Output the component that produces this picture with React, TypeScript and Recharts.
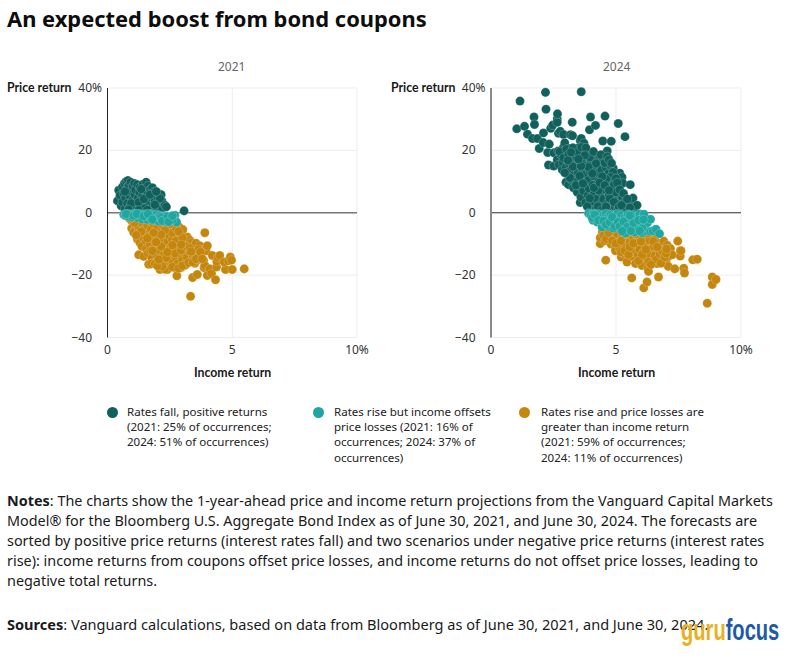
import { CartesianGrid, ReferenceLine, Scatter, ScatterChart, XAxis, YAxis, ZAxis } from "recharts";

type Pt = [number, number];

const DARK = "#10605c";
const TEAL = "#1ea69f";
const GOLD = "#c4860c";
const FONT = "'Noto Sans', sans-serif";

const fall2021: Pt[] = [
  [0.4,3.8],[0.45,7.2],[0.5,5.5],[0.55,2.2],[0.6,3.4],[0.6,8.3],[0.65,6.2],[0.68,9.4],[0.7,1.2],[0.72,4.8],[0.75,10],[0.78,7.6],
  [0.8,3],[0.82,10.3],[0.85,8.7],[0.88,5.6],[0.9,2],[0.93,9.8],[0.95,6.8],[1.0,4],[1.02,8.5],[1.05,1],[1.08,9.4],[1.1,5.8],
  [1.12,7.4],[1.15,2.8],[1.2,9],[1.22,4.6],[1.28,6.6],[1.3,8.2],[1.33,1.6],[1.38,3.6],[1.4,5.4],[1.42,9.1],[1.48,7.3],[1.52,2.4],
  [1.55,9.8],[1.58,4.6],[1.6,6],[1.62,8.6],[1.66,3.2],[1.7,0.8],[1.72,7.5],[1.75,5],[1.8,8],[1.82,2.2],[1.85,6.6],[1.9,3.8],
  [1.95,1.2],[2.0,5],[2.05,2.8],[2.08,6],[2.15,5.8],[2.18,3.8],[2.2,1.6],[2.3,2.4],[2.36,1.9],[3.07,0.6],
  [0.95,3],[1.25,3.4],[1.45,4.4],[1.7,5.8],[1.35,7.6],[0.7,6.8],[1.5,1.4],[1.1,0.6],[2.1,4.6],[1.95,6.8],[1.25,0.8],[0.85,1],[1.6,0.9],[1.9,2.6],
];

const offset2021: Pt[] = [
  [0.65,-0.6],[0.72,-0.9],[0.8,-0.4],[0.85,-1.2],[0.95,-0.5],[1.0,-1.4],[1.08,-0.3],[1.15,-0.9],[1.22,-1.6],[1.3,-0.4],[1.35,-1.2],
  [1.4,-2],[1.5,-0.5],[1.55,-1.5],[1.6,-2.2],[1.65,-0.8],[1.72,-1.8],[1.75,-0.4],[1.85,-1.2],[1.9,-2.4],[1.95,-0.6],[2.0,-1.7],
  [2.05,-2.7],[2.1,-0.9],[2.18,-2.2],[2.25,-1.3],[2.3,-2.8],[2.35,-1],[2.4,-2],[2.5,-2.7],[2.55,-1.6],[2.7,-0.8],[2.68,-2.3],[2.77,-3],
  [0.75,-0.4],[1.05,-0.9],[1.18,-0.4],[1.45,-1.1],[1.62,-0.4],[1.8,-2.2],[2.15,-1.5],[2.2,-2.6],[2.4,-1.2],[2.6,-2.3],[2.45,-2.9],[2.6,-1],
];

const loss2021: Pt[] = [
  [0.85,-1.6],[0.95,-2.4],[1.0,-3],[1.05,-4.2],[0.97,-5],[1.1,-5.4],[1.05,-6.3],[1.2,-3.2],[1.25,-4.8],[1.22,-6.6],[1.2,-8.5],[1.32,-7.4],
  [1.3,-9.6],[1.4,-3.6],[1.42,-5.6],[1.45,-8.2],[1.38,-10.8],[1.25,-13.5],[1.45,-14],[1.52,-6.6],[1.55,-9.2],[1.55,-11.6],[1.6,-4.2],[1.62,-13],
  [1.65,-16.5],[1.68,-7.6],[1.7,-10.2],[1.72,-12.2],[1.75,-5.2],[1.78,-14.6],[1.82,-16.2],[1.85,-3.6],[1.85,-8.6],[1.9,-11],[1.92,-6.6],[1.95,-13.4],
  [1.98,-15.8],[2.0,-4.8],[2.02,-9.6],[2.05,-7.8],[2.08,-12],[2.1,-18.2],[2.12,-14.6],[2.15,-16.4],[2.18,-5.8],[2.2,-3.8],[2.22,-10.4],[2.25,-8.6],
  [2.28,-13],[2.3,-6.8],[2.32,-15.4],[2.35,-11.6],[2.4,-18.2],[2.4,-4.8],[2.42,-9.2],[2.45,-16.6],[2.48,-7.4],[2.5,-13.8],[2.52,-11.2],[2.55,-5.6],
  [2.58,-15],[2.6,-8.6],[2.62,-3.8],[2.65,-12.4],[2.68,-10],[2.7,-17.6],[2.72,-6.6],[2.75,-14.4],[2.78,-20.2],[2.8,-16.4],[2.82,-8],[2.85,-11.6],
  [2.88,-4.6],[2.9,-13.2],[2.92,-9.6],[2.95,-17.6],[2.98,-6.8],[3.0,-15.2],[3.02,-5.4],[3.05,-11],[3.08,-12.8],[3.1,-8.8],[3.12,-16.8],[3.18,-14.4],
  [3.2,-7.8],[3.22,-10.2],[3.28,-12.4],[3.3,-8.8],[3.33,-26.8],[3.35,-15.6],[3.38,-9.6],[3.41,-20.8],[3.42,-13.6],[3.45,-11],[3.5,-16.2],[3.55,-9.8],
  [3.6,-19.8],[3.6,-12.6],[3.65,-15],[3.7,-10.6],[3.75,-13.8],[3.8,-12],[3.85,-15.2],[3.87,-17.6],[3.9,-6.4],[3.9,-16.9],[3.95,-12.2],[4.0,-10.6],
  [4.0,-20.1],[4.1,-18],[4.17,-19.5],[4.2,-13.7],[4.33,-21.5],[4.37,-17.4],[4.38,-15.6],[4.42,-14.4],[4.5,-13.7],[4.73,-18.2],[4.68,-15.8],[4.85,-15.4],
  [4.92,-14.2],[4.97,-15.2],[5.0,-18.2],[5.48,-18],
  [1.75,-16.4],[1.9,-16.4],[2.25,-16.6],[2.3,-18.1],[2.6,-17.4],[2.85,-17.8],[3.0,-17],[3.25,-16],[3.42,-15.8],[2.2,-17.2],[2,-17],[2.35,-14.4],[2.7,-13],
  [2.95,-12],[3.15,-10.8],[3.3,-11.4],[3.5,-13],[3.55,-14.8],[3.65,-11.8],[3.72,-12.6],[3.8,-14.8],[3.35,-12.4],[2.6,-6.4],[2.75,-5],[2.5,-3.6],[2.3,-5.6],
  [2.15,-7],[2.75,-9],[3,-8],[2.85,-6],[2.95,-10.2],[2.6,-10.4],[2.4,-12.6],[2.15,-10.8],[1.85,-6.4],[1.6,-8.2],[1.95,-9.4],[1.8,-12.2],[2.05,-15],[1.35,-6],
  [1.15,-7.2],[1.08,-3.2],[0.9,-1.9],
];

const fall2024: Pt[] = [
  [1.03,26.9],[1.16,35.8],[1.34,27.7],[1.46,25.2],[1.66,23.8],[1.72,30.7],[1.74,28.3],[1.86,23.8],[1.93,20.6],[2.09,22.5],[2.1,25.6],[2.18,38.6],
  [2.2,33.2],[2.27,19.3],[2.3,15.3],[2.33,22],[2.39,27.1],[2.47,28.1],[2.51,19.2],[2.51,15],[2.65,30.1],[2.65,29],[2.66,31.7],[2.69,19.8],[2.7,25.5],
  [2.77,26.1],[2.9,25.1],[2.9,21],[2.95,22.4],[3.18,25],[3.25,29],[3.26,24.7],[3.57,23.2],[3.61,23.8],[3.61,38.8],[3.72,22.3],[3.94,26.6],[3.98,30.7],
  [4.18,28],[4.47,23],[4.56,31],[4.65,19.8],[4.81,22.9],[5.09,28.6],[5.36,24.4],[4.89,14.3],[5.15,12.7],[5.24,11.4],[5.27,9.5],[5.57,9],
  [2.65,17],[2.72,15.4],[2.8,18.6],[2.85,13.8],[2.88,16.2],[2.95,19.8],[3.0,9.8],[3.0,14.6],[3.02,17.6],[3.08,12.2],[3.1,9],[3.12,15.8],[3.15,20.6],
  [3.18,18.4],[3.2,13.6],[3.22,10.6],[3.25,16.6],[3.3,8],[3.32,12.2],[3.35,19.6],[3.38,14.6],[3.4,17.8],[3.42,10],[3.45,6.6],[3.48,12.8],[3.5,20.8],
  [3.52,15.6],[3.55,8.6],[3.57,3.3],[3.58,18.8],[3.6,5],[3.62,11.2],[3.65,13.8],[3.68,16.8],[3.7,7],[3.72,20.2],[3.75,9.6],[3.78,3.2],[3.8,12.4],
  [3.82,15],[3.85,18.2],[3.88,5.6],[3.9,10.4],[3.92,7.8],[3.95,13.4],[3.98,1.8],[4.0,16.4],[4.02,19],[4.05,3.6],[4.08,9],[4.1,11.8],[4.12,6],
  [4.15,14.4],[4.18,17.4],[4.2,1.2],[4.22,4.4],[4.25,8],[4.28,12.8],[4.3,10],[4.32,15.8],[4.35,18.2],[4.38,2.8],[4.4,6.6],[4.42,13.8],[4.45,9],
  [4.48,16.6],[4.5,4.4],[4.52,11.4],[4.55,1],[4.58,7.4],[4.6,14.6],[4.62,17.8],[4.65,3],[4.68,9.8],[4.7,12.6],[4.72,5.6],[4.75,15.4],[4.78,1.6],
  [4.8,8.2],[4.82,3.8],[4.85,10.6],[4.9,6],[4.95,2],[5.0,8],[5.02,4.4],[5.08,1.2],[5.12,6.2],[5.18,3],[5.25,5],[5.3,1.4],[5.35,3.4],[5.42,1.2],
  [5.5,2.6],[5.62,3.1],[5.68,4.7],[5.75,1],[5.84,2.4],
  [2.75,19.6],[2.9,17.6],[3.02,20.4],[3.1,18.6],[3.28,20.8],[3.45,19.4],[3.62,21],[3.8,20.8],[3.95,17.8],[4.1,19.6],[4.2,15.8],[4.4,18.6],[4.55,16],[4.65,18],
  [4.72,17],[4.82,15.9],[4.88,13],[4.78,11.4],[4.92,9],[5,11],[5.05,9.6],[4.98,6.6],[5.15,7.4],[5.3,6.2],[5.45,4.4],[5.55,1.6],[4.6,10.8],[4.45,11.6],[4.3,7.2],
  [4.12,8],[3.95,4.6],[3.85,2],[4.28,2],[4.42,0.8],[4.6,2],[4.75,4.6],[4.92,3.4],[5.12,1.8],[5.22,2.4],[3.55,11.8],[3.4,8.8],[3.28,14.8],[3.15,11.2],[3.08,16.8],
  [2.95,12.8],[3.68,9.4],[3.75,18.4],[3.9,14.6],[4.05,12.6],[4.35,9.6],[4.55,8.8],[4.72,7.2],[3.6,15],[3.5,17.2],[3.2,19.4],
];

const offset2024: Pt[] = [
  [3.9,-0.2],[4.0,-0.8],[4.08,-2.4],[4.12,-0.3],[4.2,-1.4],[4.25,-3],[4.32,-0.4],[4.38,-2],[4.44,-4.6],[4.48,-0.9],[4.55,-3.4],[4.6,-0.3],[4.65,-1.8],
  [4.7,-4.4],[4.78,-0.6],[4.82,-2.8],[4.9,-5],[4.95,-1.2],[5.0,-3.6],[5.05,-0.4],[5.12,-2.2],[5.18,-5.4],[5.22,-0.8],[5.28,-4],[5.35,-1.6],[5.37,-6.5],
  [5.42,-3],[5.48,-0.5],[5.52,-5.2],[5.58,-2],[5.65,-4.2],[5.7,-0.7],[5.75,-6.2],[5.8,-2.8],[5.85,-1.2],[5.9,-4.8],[5.95,-0.4],[6.0,-3.2],[6.04,-6.4],
  [6.08,-1.6],[6.12,-0.5],[6.15,-4.4],[6.2,-5.8],[6.26,-3.2],[6.38,-2.1],[6.38,-6],[6.48,-5.8],[6.6,-5.3],[6.74,-6.7],
  [4.05,-1.6],[4.15,-0.7],[4.3,-2.4],[4.5,-2.6],[4.6,-3.8],[4.75,-3],[4.85,-1.4],[4.95,-4.4],[5.08,-3],[5.15,-4.4],[5.3,-2.8],[5.45,-4.6],[5.6,-5.8],[5.7,-3.2],
  [5.9,-2.4],[6.05,-5],[5.95,-5.8],[6.1,-2.2],[5.55,-0.9],[5.25,-5.9],
];

const loss2024: Pt[] = [
  [4.37,-9.9],[4.37,-8],[4.45,-6.2],[4.55,-9],[4.59,-15.2],[4.62,-6.6],[4.72,-7.8],[4.8,-10],[4.85,-6.8],[4.95,-8.6],[4.97,-11],[4.98,-12.2],[5.05,-7],
  [5.1,-9.6],[5.15,-11.6],[5.21,-14.2],[5.25,-7.6],[5.3,-13],[5.32,-8.8],[5.38,-10.6],[5.44,-15.8],[5.45,-12.2],[5.5,-7.2],[5.55,-9.4],[5.6,-11.6],[5.63,-20.9],
  [5.65,-14],[5.7,-8],[5.72,-12.6],[5.78,-16.3],[5.8,-10.2],[5.85,-7.4],[5.88,-13.6],[5.92,-9],[5.95,-11.8],[6.0,-15],[6.04,-16.9],[6.05,-7.8],[6.1,-12.6],
  [6.11,-24.1],[6.15,-10],[6.2,-14.2],[6.24,-22.2],[6.25,-8.2],[6.27,-17.8],[6.3,-18.8],[6.32,-11.8],[6.38,-13.6],[6.42,-9.2],[6.48,-15.6],[6.5,-11],[6.55,-7.8],
  [6.6,-13],[6.64,-16.3],[6.68,-9.8],[6.7,-20.6],[6.72,-11.8],[6.8,-14.6],[6.85,-10.6],[6.91,-9.1],[6.95,-12.6],[7.0,-15.8],[7.05,-10.4],[7.09,-17.2],[7.1,-14],
  [7.18,-11.5],[7.25,-13.5],[7.35,-18],[7.47,-9.1],[7.57,-12.2],[7.57,-13.9],[7.6,-12.2],[7.71,-17.8],[7.74,-19.3],[8.07,-15.1],[8.25,-14.9],[8.65,-29],
  [8.85,-20.6],[8.85,-23],[9,-21.4],
  [4.5,-7.2],[4.6,-8.4],[4.7,-6.4],[4.85,-9],[5,-9.8],[5.2,-9],[5.2,-12.6],[5.35,-12.2],[5.5,-13.4],[5.55,-11],[5.7,-9.8],[5.9,-15.4],[6.05,-13.4],[6,-9.2],[6.2,-11.8],
  [6.3,-15.8],[6.35,-8.8],[6.5,-9.2],[6.55,-13.8],[6.62,-15],[6.75,-13.2],[6.8,-16.2],[6.85,-12.4],[6.95,-14.2],[6.65,-11],[6.25,-6.6],[5.8,-6.8],[5.4,-6.8],[6.4,-16.6],
  [7,-13],[7.02,-11.6],
];

const yearPanels = [
  { title: "2021", left: 0, fall: fall2021, offset: offset2021, loss: loss2021, marginLeft: 67.5, marginRight: 23 },
  { title: "2024", left: 385, fall: fall2024, offset: offset2024, loss: loss2024, marginLeft: 66, marginRight: 24 },
];

const xTicks = [0, 5, 10];
const yTicks = [-40, -20, 0, 20, 40];

const legendItems = [
  { color: DARK, dot: 112, textLeft: 127, lines: ["Rates fall, positive returns", "(2021: 25% of occurrences;", "2024: 51% of occurrences)"] },
  { color: TEAL, dot: 318, textLeft: 334, lines: ["Rates rise but income offsets", "price losses (2021: 16% of", "occurrences; 2024: 37% of", "occurrences)"] },
  { color: GOLD, dot: 524, textLeft: 541, lines: ["Rates rise and price losses are", "greater than income return", "(2021: 59% of occurrences;", "2024: 11% of occurrences)"] },
];

const noteLines = [
  "The charts show the 1-year-ahead price and income return projections from the Vanguard Capital Markets",
  "Model® for the Bloomberg U.S. Aggregate Bond Index as of June 30, 2021, and June 30, 2024. The forecasts are",
  "sorted by positive price returns (interest rates fall) and two scenarios under negative price returns (interest rates",
  "rise): income returns from coupons offset price losses, and income returns do not offset price losses, leading to",
  "negative total returns.",
];

const toRows = (pts: Pt[]) => pts.map(([x, y]) => ({ x, y }));
const fmtX = (v: number) => (v === 10 ? "10%" : String(v));
const text = (left: number, top: number, extra: React.CSSProperties = {}): React.CSSProperties => ({
  position: "absolute",
  left,
  top,
  whiteSpace: "nowrap",
  fontFamily: FONT,
  color: "#1a1a1a",
  ...extra,
});

// the % on the top tick hangs past the number column
function YTick({ x, y, payload }: any) {
  const v = payload.value;
  return (
    <text x={x} y={y} dy={4} textAnchor="end" fontSize={12} fontFamily={FONT} fill="#333">
      {v < 0 ? `\u2212${-v}` : v}
      {v === 40 && (
        <tspan x={x} textAnchor="start">
          %
        </tspan>
      )}
    </text>
  );
}

function Panel({ panel, index }: { panel: (typeof yearPanels)[number]; index: number }) {
  return (
    <div style={{ position: "absolute", left: panel.left, top: 50 }}>
      <ScatterChart
        width={380}
        height={330}
        margin={{ top: 38, right: panel.marginRight, bottom: 12.5, left: panel.marginLeft }}
      >
        <CartesianGrid stroke="#ededed" />
        <XAxis
          type="number"
          dataKey="x"
          domain={[0, 10]}
          ticks={xTicks}
          tickFormatter={fmtX}
          tick={{ fontSize: 12, fill: "#333", fontFamily: FONT }}
          tickLine={false}
          axisLine={false}
          height={30}
          tickMargin={2}
          interval={0}
        />
        <YAxis
          type="number"
          dataKey="y"
          domain={[-40, 40]}
          ticks={yTicks}
          tick={YTick}
          tickLine={false}
          axisLine={{ stroke: index === 0 ? "#222" : "#8a8a8a", strokeWidth: index === 0 ? 1 : 2 }}
          width={40}
          tickMargin={9.5}
          interval={0}
        />
        <ZAxis range={[42, 42]} />
        <ReferenceLine y={0} stroke={index === 0 ? "#777" : "#333"} strokeWidth={index === 0 ? 1.6 : 1} />
        <Scatter data={toRows(panel.fall)} fill={DARK} stroke="#fff" strokeOpacity={0.35} strokeWidth={0.6} isAnimationActive={false} />
        <Scatter data={toRows(panel.loss)} fill={GOLD} stroke="#fff" strokeOpacity={0.35} strokeWidth={0.6} isAnimationActive={false} />
        <Scatter data={toRows(panel.offset)} fill={TEAL} stroke="#fff" strokeOpacity={0.35} strokeWidth={0.6} isAnimationActive={false} />
      </ScatterChart>
    </div>
  );
}

export default function App() {
  return (
    <div style={{ position: "absolute", left: 0, top: 0, width: 788, height: 659, background: "#fff", overflow: "hidden" }}>
      <div style={text(7, 4, { fontSize: 21.9, fontWeight: 700, color: "#0d0d0d" })}>An expected boost from bond coupons</div>

      {yearPanels.map((p, i) => (
        <Panel key={p.title} panel={p} index={i} />
      ))}
      {yearPanels.map((p) => (
        <div key={p.title}>
          <div style={text(p.left + 218, 58, { fontSize: 12, color: "#666" })}>{p.title}</div>
          <div style={text(p.left + (p.left ? 6 : 7), 80, { fontSize: 12.3, fontWeight: 700, fontFamily: "Lato, sans-serif" })}>Price return</div>
          <div style={text(p.left + (p.left ? 193 : 194), 365, { fontSize: 12.3, fontWeight: 700, fontFamily: "Lato, sans-serif" })}>Income return</div>
        </div>
      ))}

      {legendItems.map((item) => (
        <div key={item.dot}>
          <div style={{ position: "absolute", left: item.dot - 5.5, top: 407, width: 11, height: 11, borderRadius: "50%", background: item.color }} />
          {item.lines.map((line, i) => (
            <div key={line} style={text(item.textLeft, 404 + i * 15.2, { fontSize: 11.55, color: "#222" })}>{line}</div>
          ))}
        </div>
      ))}

      {noteLines.map((line, i) => (
        <div key={line} style={text(7, 491 + i * 20, { fontSize: 14.4 })}>
          {i === 0 && <b>Notes</b>}
          {i === 0 && ": "}
          {line}
        </div>
      ))}
      <div style={text(7, 614, { fontSize: 14.55 })}>
        <b>Sources</b>: Vanguard calculations, based on data from Bloomberg as of June 30, 2021, and June 30, 2024.
      </div>

      <div
        style={text(681, 613, {
          fontSize: 30,
          fontWeight: 700,
          fontFamily: "'Liberation Sans', sans-serif",
          transform: "scaleX(0.67)",
          transformOrigin: "left top",
        })}
      >
        <span style={{ color: "#e8b022" }}>guru</span>
        <span style={{ color: "#1f5aa6" }}>focus</span>
      </div>
    </div>
  );
}
